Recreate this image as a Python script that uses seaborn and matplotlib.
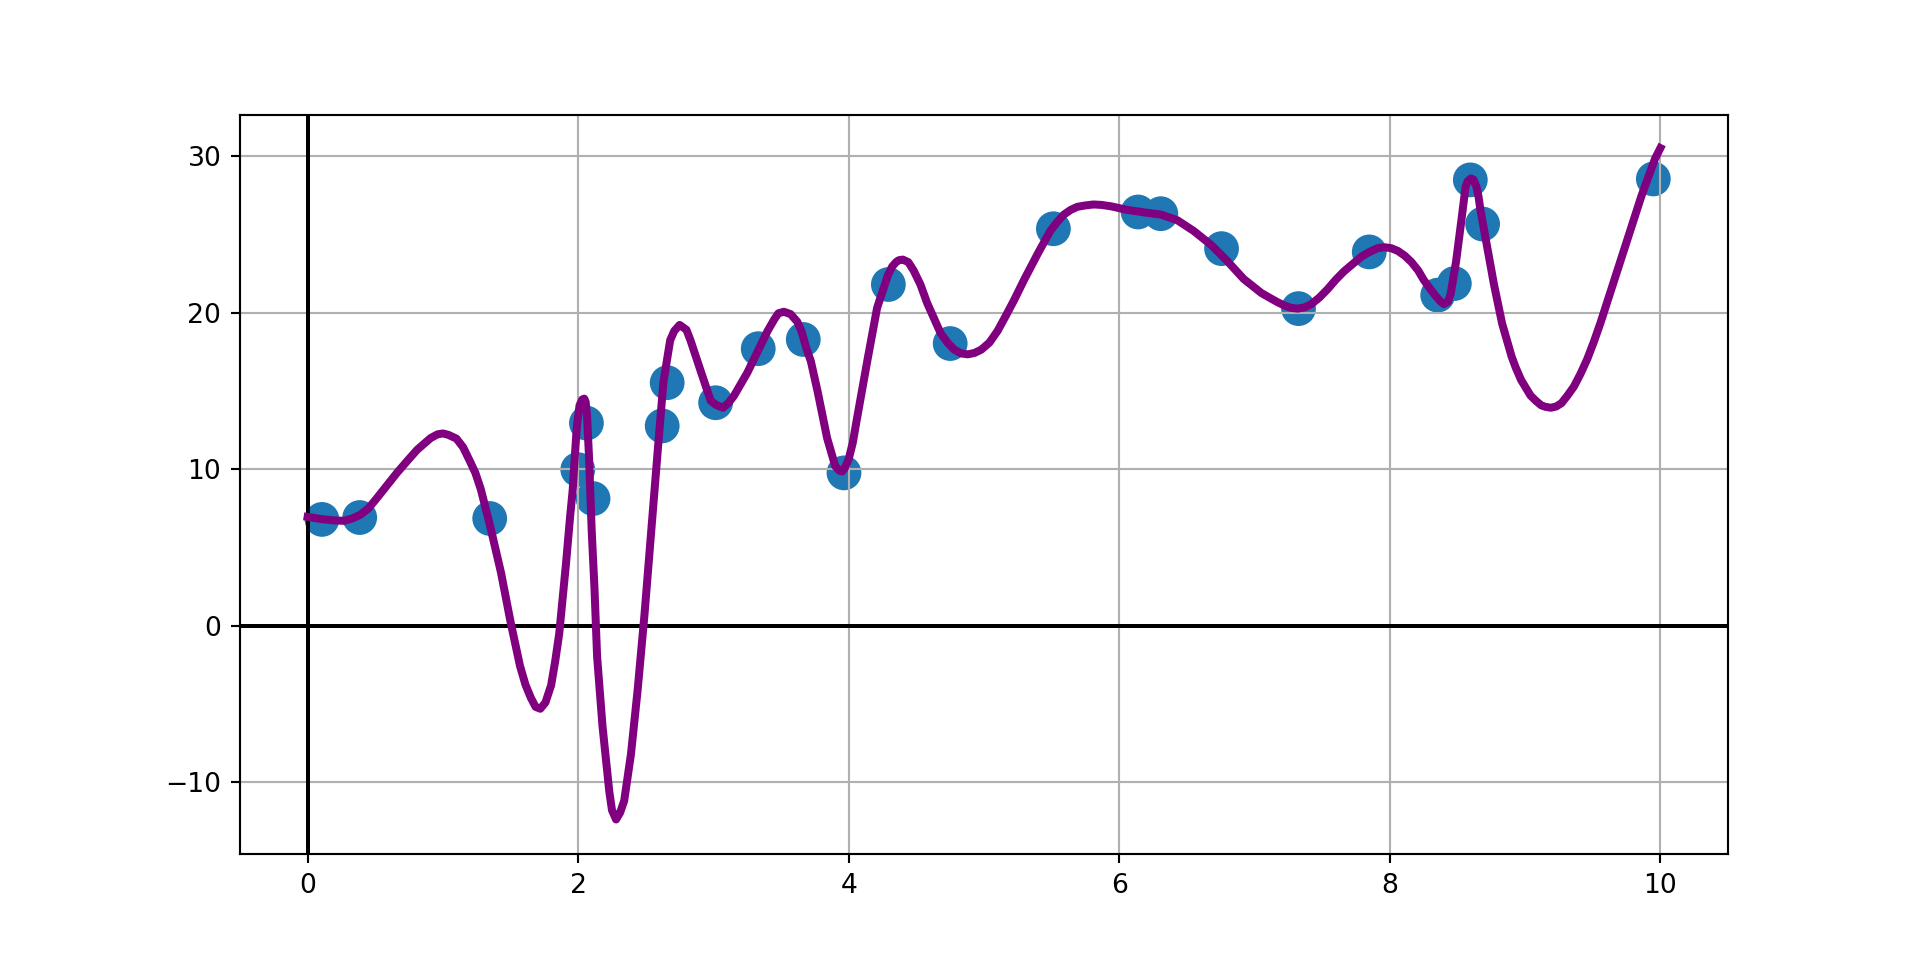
import matplotlib
matplotlib.use("Agg")
import matplotlib.pyplot as plt
import seaborn as sns

pts_x = [0.106, 0.385, 1.346, 1.997, 2.061, 2.110, 2.621, 2.658, 3.016, 3.331,
         3.664, 3.965, 4.293, 4.750, 5.513, 6.139, 6.307, 6.756, 7.325, 7.848,
         8.354, 8.477, 8.595, 8.686, 9.948]
pts_y = [6.79, 6.91, 6.85, 9.97, 12.94, 8.12, 12.76, 15.52, 14.24, 17.69,
         18.28, 9.76, 21.79, 18.02, 25.35, 26.42, 26.31, 24.08, 20.25, 23.87,
         21.11, 21.85, 28.47, 25.65, 28.53]

# fitted curve
curve_x = [0.00, 0.12, 0.19, 0.27, 0.33, 0.39, 0.45, 0.51, 0.59, 0.66,
           0.74, 0.81, 0.91, 0.96, 1.00, 1.04, 1.10, 1.15, 1.20, 1.24,
           1.28, 1.35, 1.43, 1.50, 1.57, 1.61, 1.65, 1.685, 1.72, 1.758,
           1.80, 1.83, 1.86, 1.91, 1.94, 1.96, 1.975, 1.99, 2.01, 2.03,
           2.045, 2.055, 2.065, 2.08, 2.10, 2.12, 2.14, 2.18, 2.23, 2.25,
           2.28, 2.31, 2.34, 2.36, 2.39, 2.44, 2.49, 2.54, 2.59, 2.63,
           2.68, 2.71, 2.75, 2.80, 2.83, 2.87, 2.91, 2.98, 3.02, 3.07,
           3.11, 3.15, 3.25, 3.35, 3.40, 3.45, 3.48, 3.52, 3.57, 3.62,
           3.65, 3.69, 3.72, 3.77, 3.84, 3.88, 3.90, 3.93, 3.95, 3.97,
           4.00, 4.03, 4.06, 4.14, 4.21, 4.29, 4.32, 4.35, 4.37, 4.40,
           4.44, 4.48, 4.53, 4.58, 4.68, 4.73, 4.78, 4.83, 4.88, 4.93,
           4.98, 5.04, 5.10, 5.16, 5.22, 5.30, 5.40, 5.49, 5.54, 5.59,
           5.64, 5.69, 5.75, 5.81, 5.87, 5.94, 6.06, 6.18, 6.31, 6.43,
           6.55, 6.68, 6.80, 6.92, 7.05, 7.10, 7.17, 7.22, 7.27, 7.32,
           7.37, 7.42, 7.48, 7.54, 7.60, 7.66, 7.73, 7.79, 7.85, 7.91,
           7.96, 8.01, 8.06, 8.11, 8.16, 8.21, 8.25, 8.30, 8.34, 8.38,
           8.40, 8.43, 8.45, 8.49, 8.53, 8.56, 8.575, 8.60, 8.62, 8.64,
           8.655, 8.67, 8.72, 8.77, 8.83, 8.87, 8.90, 8.93, 8.97, 9.04,
           9.08, 9.12, 9.15, 9.19, 9.23, 9.27, 9.31, 9.36, 9.41, 9.46,
           9.51, 9.56, 9.66, 9.76, 9.86, 9.96, 10.00]
curve_y = [6.95, 6.79, 6.73, 6.70, 6.85, 7.09, 7.50, 8.13, 9.00, 9.76,
           10.56, 11.24, 11.99, 12.22, 12.28, 12.19, 11.95, 11.39, 10.50, 9.76,
           8.72, 6.34, 3.37, 0.25, -2.57, -3.76, -4.60, -5.18, -5.30, -4.90,
           -3.80, -2.27, -0.49, 3.97, 6.94, 8.72, 10.80, 12.70, 14.07, 14.45,
           14.50, 14.30, 13.47, 10.80, 6.05, 2.48, -1.98, -6.43, -10.59, -11.78,
           -12.37, -11.93, -11.18, -10.00, -8.21, -4.06, 0.70, 6.05, 11.39, 15.55,
           18.23, 18.82, 19.21, 18.90, 18.23, 17.19, 16.15, 14.36, 14.10, 13.92,
           14.22, 14.66, 16.15, 17.93, 18.82, 19.57, 19.95, 20.05, 19.90, 19.41,
           18.82, 17.63, 16.89, 14.96, 11.99, 10.80, 10.20, 9.91, 9.85, 10.05,
           10.65, 11.69, 13.18, 17.04, 20.31, 22.39, 22.92, 23.22, 23.34, 23.38,
           23.22, 22.68, 21.79, 20.60, 18.67, 18.08, 17.63, 17.39, 17.33, 17.42,
           17.63, 18.08, 18.82, 19.77, 20.75, 22.15, 23.80, 25.21, 25.77, 26.25,
           26.55, 26.75, 26.84, 26.90, 26.87, 26.78, 26.55, 26.40, 26.25, 25.89,
           25.21, 24.31, 23.27, 22.14, 21.25, 21.00, 20.66, 20.45, 20.30, 20.25,
           20.33, 20.54, 20.96, 21.49, 22.09, 22.62, 23.13, 23.57, 23.87, 24.11,
           24.17, 24.11, 23.93, 23.63, 23.22, 22.68, 22.09, 21.49, 21.05, 20.66,
           20.54, 20.70, 21.20, 23.27, 25.95, 28.03, 28.38, 28.56, 28.47, 28.03,
           27.44, 26.55, 24.17, 21.79, 19.30, 18.10, 17.20, 16.50, 15.70, 14.70,
           14.36, 14.07, 13.98, 13.92, 14.00, 14.22, 14.66, 15.26, 16.09, 17.04,
           18.17, 19.41, 22.09, 24.76, 27.44, 29.81, 30.50]

fig, ax = plt.subplots(figsize=(10, 5), dpi=192)

ax.axhline(0, color="black", lw=1.5)
ax.axvline(0, color="black", lw=1.5)

sns.scatterplot(x=pts_x, y=pts_y, s=170, color="#1f77b4", edgecolor="none",
                linewidth=0, ax=ax)
sns.lineplot(x=curve_x, y=curve_y, color="purple", lw=3, sort=False,
             estimator=None, ax=ax)

ax.grid(True)
ax.set_xlim(-0.5, 10.5)
ax.set_ylim(-14.6, 32.6)
ax.set_yticks([-10, 0, 10, 20, 30])

fig.savefig("out.png", dpi=192)
